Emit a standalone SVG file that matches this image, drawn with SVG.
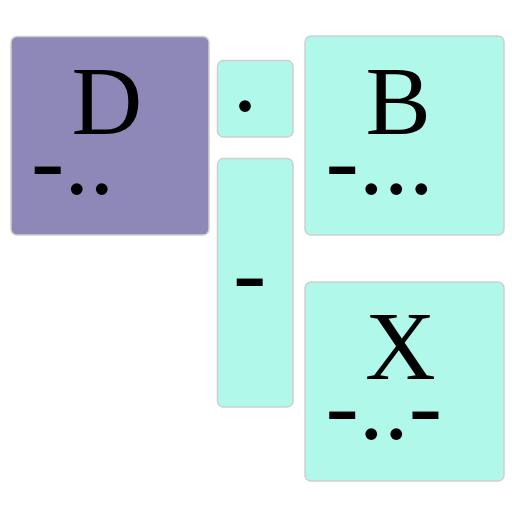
<svg xmlns="http://www.w3.org/2000/svg" width="512" height="512" viewBox="0 0 512 512">
<style>
.box{stroke:#cfcfcf;stroke-width:1.5}
.dark{fill:#8e88b8}
.light{fill:#b0f8e9}
.letter{font-family:"Liberation Serif","Times New Roman",serif;font-size:98px;fill:#000}
.morse{font-family:"Liberation Serif","Times New Roman",serif;font-size:100px;fill:#000}
</style>
<rect width="512" height="512" fill="#ffffff"/>
<g id="connectors"></g>
<g id="node-D">
<rect class="box dark" x="11" y="36.5" width="198" height="198.5" rx="6"/>
<text class="letter" x="71.5" y="134">D</text>
<text class="morse" x="31" y="193.5">-..</text>
</g>
<g id="node-dot">
<rect class="box light" x="217.5" y="60.5" width="75.5" height="76.5" rx="6"/>
<text class="morse" x="232.6" y="110.7">.</text>
</g>
<g id="node-dash">
<rect class="box light" x="217.5" y="158.5" width="75.5" height="248.5" rx="6"/>
<text class="morse" x="233" y="306">-</text>
</g>
<g id="node-B">
<rect class="box light" x="305" y="36" width="199" height="199" rx="6"/>
<text class="letter" x="365.5" y="134">B</text>
<text class="morse" x="325.4" y="194.4">-...</text>
</g>
<g id="node-X">
<rect class="box light" x="305" y="282" width="199" height="199" rx="6"/>
<text class="letter" x="365" y="379">X</text>
<text class="morse" x="325.4" y="439.4">-..-</text>
</g>
</svg>
